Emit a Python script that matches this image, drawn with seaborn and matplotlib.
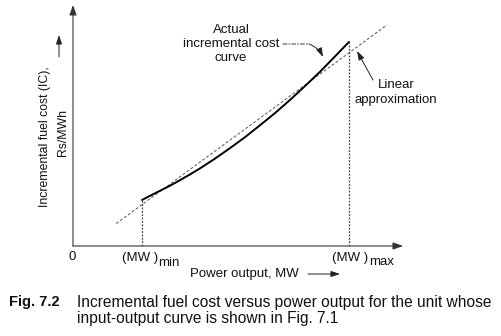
import matplotlib
matplotlib.use("Agg")
import matplotlib.pyplot as plt
import seaborn as sns

# ---- data (arbitrary units, origin at axes corner) ----
power_mw = [20, 22.3, 25.2, 28.1, 31.0, 33.9, 36.8, 41.2, 45.5, 49.9, 54.2,
            58.6, 62.9, 67.2, 71.6, 75.9, 80]
ic_actual = [19.1, 20.8, 22.9, 25.0, 27.3, 29.7, 32.2, 36.3, 40.6, 45.2, 50.1,
             55.2, 60.6, 66.3, 72.3, 78.6, 84.7]
linear_power = [12.5, 91.0]
linear_ic = [9.3, 91.7]
p_min, p_max = power_mw[0], power_mw[-1]

caption_tag = "Fig. 7.2"
caption_lines = ["Incremental fuel cost versus power output for the unit whose",
                 "input-output curve is shown in Fig. 7.1"]
ylabel_lines = ["Incremental fuel cost (IC),", "Rs/MWh"]
xlabel = "Power output, MW"
actual_label = ["Actual", "incremental cost", "curve"]
linear_label = ["Linear", "approximation"]

sns.set_theme(style="white")
plt.rcParams["font.family"] = ["Liberation Sans", "DejaVu Sans"]

W, H = 502, 336
fig = plt.figure(figsize=(W / 100, H / 100), dpi=100)
fig.patch.set_facecolor("white")
ax = fig.add_axes([73 / W, 90 / H, 330 / W, 241 / H])
ax.set_xlim(0, 330 / 3.45)
ax.set_ylim(0, 100)
ax.axis("off")

sns.lineplot(x=linear_power, y=linear_ic, ax=ax, color="#555555", lw=0.7,
             linestyle=(0, (3, 2)))
sns.lineplot(x=power_mw, y=ic_actual, ax=ax, color="black", lw=1.4)
ax.vlines([p_min, p_max], 0, [ic_actual[0], ic_actual[-1]], colors="#444444",
          linestyles=[(0, (1.5, 1.2))], lw=0.9)

# axes with arrow heads
axis_arrow = dict(arrowstyle="-|>,head_length=0.5,head_width=0.18", lw=0.8,
                  color="#333333", shrinkA=0, shrinkB=0)
ax.annotate("", xy=(1, 0), xytext=(0, 0), xycoords="axes fraction",
            textcoords="axes fraction", arrowprops=axis_arrow)
ax.annotate("", xy=(0, 1), xytext=(0, 0), xycoords="axes fraction",
            textcoords="axes fraction", arrowprops=axis_arrow)


def ftext(x, y, s, **kw):
    kw.setdefault("ha", "center")
    kw.setdefault("va", "center")
    kw.setdefault("fontsize", 9.5)
    kw.setdefault("color", "#111111")
    fig.text(x / W, 1 - y / H, s, **kw)


def fp(x, y):
    return (x, H - y)


# tick-like labels
ftext(72, 257, "0")
ax.annotate("(MW )", xy=(p_min, 0), xytext=(-1.5, -12), textcoords="offset pixels",
            ha="center", va="center", fontsize=9.5, color="#111111")
ax.annotate("min", xy=(p_min, 0), xytext=(16, -17), textcoords="offset pixels",
            ha="left", va="center", fontsize=9.5, color="#111111")
ax.annotate("(MW )", xy=(p_max, 0), xytext=(1, -12), textcoords="offset pixels",
            ha="center", va="center", fontsize=9.5, color="#111111")
ax.annotate("max", xy=(p_max, 0), xytext=(20, -16), textcoords="offset pixels",
            ha="left", va="center", fontsize=9.5, color="#111111")

# x label with arrow
ftext(190, 274, xlabel, ha="left")
small_arrow = dict(arrowstyle="-|>,head_length=0.45,head_width=0.15", lw=0.7,
                   color="#222222", shrinkA=0, shrinkB=0)
ax.annotate("", xy=fp(340, 274), xytext=fp(308, 274), xycoords="figure pixels",
            textcoords="figure pixels", arrowprops=small_arrow)

# y label with arrow
ftext(45, 137, ylabel_lines[0], rotation=90, fontsize=8.8)
ftext(63, 133, ylabel_lines[1], rotation=90, fontsize=8.8)
ax.annotate("", xy=fp(59, 35), xytext=fp(59, 57), xycoords="figure pixels",
            textcoords="figure pixels", arrowprops=small_arrow)

# curve labels
for yy, s in zip([30, 44, 58], actual_label):
    ftext(231, yy, s)
for yy, s in zip([85, 100], linear_label):
    ftext(396, yy, s)

# leaders
ax.annotate("", xy=fp(309, 44), xytext=fp(283, 44), xycoords="figure pixels",
            textcoords="figure pixels",
            arrowprops=dict(arrowstyle="-", lw=0.7, color="#333333",
                            linestyle=(0, (4, 2, 1, 2)), shrinkA=0, shrinkB=0))
ax.annotate("", xy=fp(323, 57), xytext=fp(309, 44), xycoords="figure pixels",
            textcoords="figure pixels",
            arrowprops=dict(small_arrow, connectionstyle="arc3,rad=-0.2"))
ax.annotate("", xy=fp(357, 51), xytext=fp(373, 80), xycoords="figure pixels",
            textcoords="figure pixels", arrowprops=small_arrow)

# caption
ftext(9, 302, caption_tag, ha="left", fontweight="bold", fontsize=10.5)
ftext(77, 302, caption_lines[0], ha="left", fontsize=11.2)
ftext(77, 318, caption_lines[1], ha="left", fontsize=11.2)

fig.savefig("out.png", dpi=100, facecolor="white")
